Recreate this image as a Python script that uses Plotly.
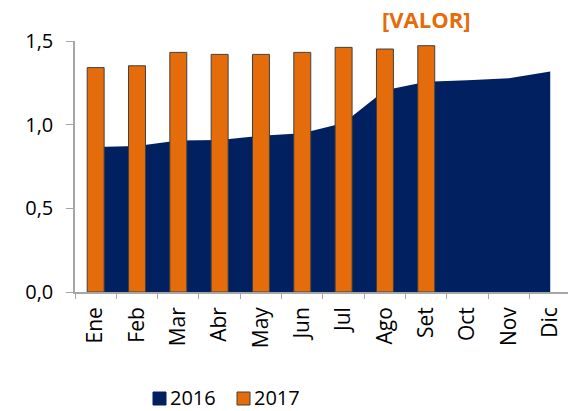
import plotly.graph_objects as go

months = ["Ene", "Feb", "Mar", "Abr", "May", "Jun", "Jul", "Ago", "Set", "Oct", "Nov", "Dic"]
values_2016 = [0.867, 0.873, 0.906, 0.909, 0.934, 0.948, 1.01, 1.205, 1.256, 1.266, 1.277, 1.317]
values_2017 = [1.341, 1.352, 1.432, 1.420, 1.420, 1.432, 1.462, 1.452, 1.472]
series_names = ["2016", "2017"]
label_text = "[VALOR]"

NAVY = "#002060"
ORANGE = "#E46C0A"
AXIS = "#A6A6A6"
FONT = "Open Sans"

fig = go.Figure()

# 2016 area (primary axes, underneath)
fig.add_trace(go.Scatter(
    x=months, y=values_2016, mode="none", fill="tozeroy",
    fillcolor=NAVY, name=series_names[0], showlegend=False,
))

# 2017 bars on an overlaying y axis so they sit above the area
fig.add_trace(go.Bar(
    x=months[:len(values_2017)], y=values_2017, name=series_names[1], width=0.41,
    marker=dict(color=ORANGE, line=dict(color="#404040", width=1)),
    yaxis="y2", showlegend=False,
))

fig.add_annotation(
    x="Set", xref="x", y=1, yref="paper", yanchor="bottom", yshift=5,
    text=f"<b>{label_text}</b>", showarrow=False,
    font=dict(family=FONT, size=22, color=ORANGE),
)

# manual legend (swatch squares + labels), placed in paper coords
L, W, T, H = 75, 493, 41, 251
def px(x):
    return (x - L) / W
def py(y):
    return (T + H - y) / H

legend_items = [
    (series_names[0], NAVY, NAVY, 153, 168),
    (series_names[1], ORANGE, "#404040", 237, 252),
]
for name, fill, border, sx, tx in legend_items:
    fig.add_shape(
        type="rect", xref="paper", yref="paper",
        x0=px(sx), x1=px(sx + 13), y0=py(405), y1=py(392),
        fillcolor=fill, line=dict(color=border, width=1),
    )
    fig.add_annotation(
        x=px(tx), y=py(397), xref="paper", yref="paper",
        xanchor="left", yanchor="middle", showarrow=False,
        text=name, font=dict(family=FONT, size=20, color="#000000"),
    )

fig.update_layout(
    width=568, height=411,
    margin=dict(l=L, r=0, t=T, b=411 - T - H),
    paper_bgcolor="white", plot_bgcolor="white",
    separators=",.",
    barmode="overlay",
    showlegend=False,
    font=dict(family=FONT, size=20, color="#000000"),
    xaxis=dict(
        type="category", categoryorder="array", categoryarray=months,
        range=[-0.5, 11.43], tickangle=-90, automargin=False,
        ticklabelstandoff=5,
        showline=True, linecolor=AXIS, linewidth=1.5,
        ticks="outside", tickson="boundaries", ticklen=5, tickcolor=AXIS,
        showgrid=False, zeroline=False,
        tickfont=dict(family=FONT, size=21, color="#000000"),
    ),
    yaxis=dict(
        range=[0, 1.5], tickvals=[0, 0.5, 1.0, 1.5], tickformat=".1f",
        automargin=False, ticklabelstandoff=9,
        showline=True, linecolor=AXIS, linewidth=1.5,
        ticks="outside", ticklen=7, tickcolor=AXIS,
        showgrid=False, zeroline=False,
        tickfont=dict(family=FONT, size=20, color="#000000"),
    ),
    yaxis2=dict(
        range=[0, 1.5], overlaying="y", visible=False, showgrid=False,
        zeroline=False, automargin=False,
    ),
)

fig.write_html(
    "out.html",
    config={"displayModeBar": False},
    post_script="document.body.style.margin='0';",
)
